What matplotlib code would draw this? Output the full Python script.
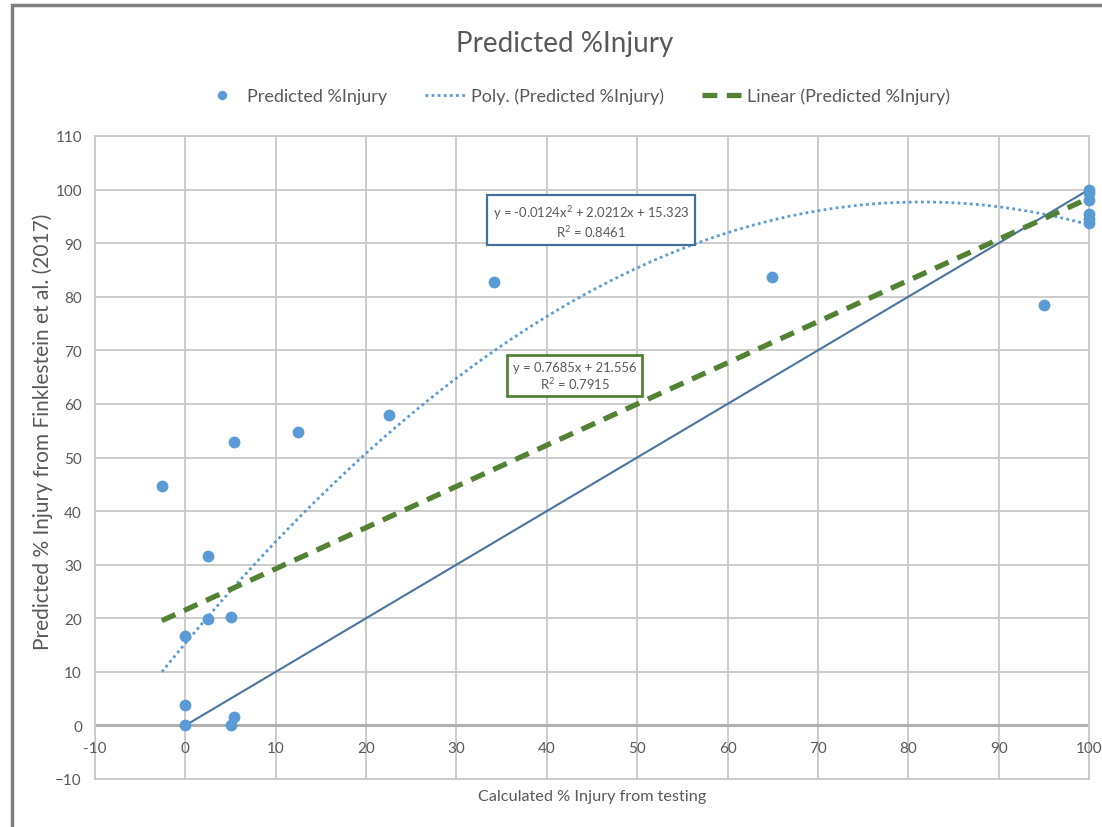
import numpy as np
import matplotlib
matplotlib.use("Agg")
import matplotlib.pyplot as plt
from matplotlib.patches import Rectangle

plt.rcParams['font.family'] = ['Lato', 'DejaVu Sans']
plt.rcParams['mathtext.fontset'] = 'custom'
plt.rcParams['mathtext.rm'] = 'Lato'

# measured vs predicted %injury
calc_injury = [-2.6, 0, 0, 0, 2.5, 2.5, 5.0, 5.0, 5.4, 5.4, 12.5, 22.5, 34.2,
               64.9, 95.0, 100, 100, 100, 100, 100, 100]
pred_injury = [44.6, 0, 3.9, 16.6, 31.7, 19.8, 20.3, 0, 1.5, 52.8, 54.8, 58.0, 82.8,
               83.6, 78.5, 100, 99.3, 98.0, 95.5, 94.6, 93.8]

# trendline coefficients (as shown on chart)
poly_coef = [-0.0124, 2.0212, 15.323]
lin_coef = [0.7685, 21.556]
one_to_one = [0, 100]

x_ticks = list(range(-10, 101, 10))
y_ticks = list(range(-10, 111, 10))

txt = '#595959'
grid_c = '#c8c8c8'

fig = plt.figure(figsize=(11.02, 8.28), dpi=100)
ax = fig.add_axes([95/1102, 48/828, 994/1102, 643/828])

ax.set_xlim(-10, 100)
ax.set_ylim(-10, 110)
ax.set_xticks(x_ticks)
ax.set_yticks(y_ticks)
ax.grid(True, color=grid_c, linewidth=1.3)
ax.set_axisbelow(True)
for s in ax.spines.values():
    s.set_color(grid_c)
    s.set_linewidth(1.3)
ax.axhline(0, color='#b0b0b0', linewidth=2.2, zorder=1)

ax.tick_params(axis='both', length=0, colors=txt, labelsize=11)
ax.tick_params(axis='y', pad=9.4)
ax.set_xticklabels([])
for t in x_ticks:
    ax.text(t, -4.2, str(t), ha='center', va='center', fontsize=11, color=txt)

# 1:1 line
ax.plot(one_to_one, one_to_one, color='#4a74a0', linewidth=1.5, zorder=2)

xs = np.linspace(min(calc_injury), max(calc_injury), 200)
ax.plot(xs, np.polyval(poly_coef, xs), color='#5b9bd5', linestyle=(0, (1, 1.2)),
        linewidth=2, zorder=3, label='Poly. (Predicted %Injury)')
ax.plot(xs, np.polyval(lin_coef, xs), color='#548235', linestyle=(0, (2.8, 1.8)),
        linewidth=3.8, zorder=3, label='Linear (Predicted %Injury)')
ax.plot(calc_injury, pred_injury, 'o', color='#5b9bd5', markersize=8.5,
        markeredgewidth=0, zorder=4, clip_on=False, label='Predicted %Injury')

ax.text(44.9, 94.1, 'y = -0.0124x$^2$ + 2.0212x + 15.323\nR$^2$ = 0.8461',
        ha='center', va='center', fontsize=9.4, color=txt, linespacing=1.15,
        bbox=dict(boxstyle='square,pad=0.45', fc='white', ec='#41719c', lw=1.6))
ax.text(43.1, 65.3, 'y = 0.7685x + 21.556\nR$^2$ = 0.7915',
        ha='center', va='center', fontsize=9.4, color=txt, linespacing=1.15,
        bbox=dict(boxstyle='square,pad=0.45', fc='white', ec='#548235', lw=2))

h, l = ax.get_legend_handles_labels()
fig.legend([h[2], h[0], h[1]], [l[2], l[0], l[1]], loc='center',
           bbox_to_anchor=(576/1102, 1 - 97/828), ncol=3, frameon=False,
           fontsize=13, labelcolor=txt, columnspacing=2.1, handlelength=2.2,
           handletextpad=0.3, markerscale=0.8)

fig.text(0.512, 1 - 44/828, 'Predicted %Injury', ha='center', va='center',
         fontsize=20, color=txt)
fig.text(592/1102, 1 - 797/828, 'Calculated % Injury from testing', ha='center',
         va='center', fontsize=11.7, color=txt)
fig.text(43/1102, 1 - 432/828, 'Predicted % Injury from Finklestein et al. (2017)',
         ha='center', va='center', rotation=90, fontsize=15, color=txt)

# outer chart border
fig.add_artist(Rectangle((12/1102, -0.1), 1.2, 1.1 - 6/828, transform=fig.transFigure,
                         fill=False, ec='#808080', lw=2.5))

fig.savefig('out.png', dpi=100)
